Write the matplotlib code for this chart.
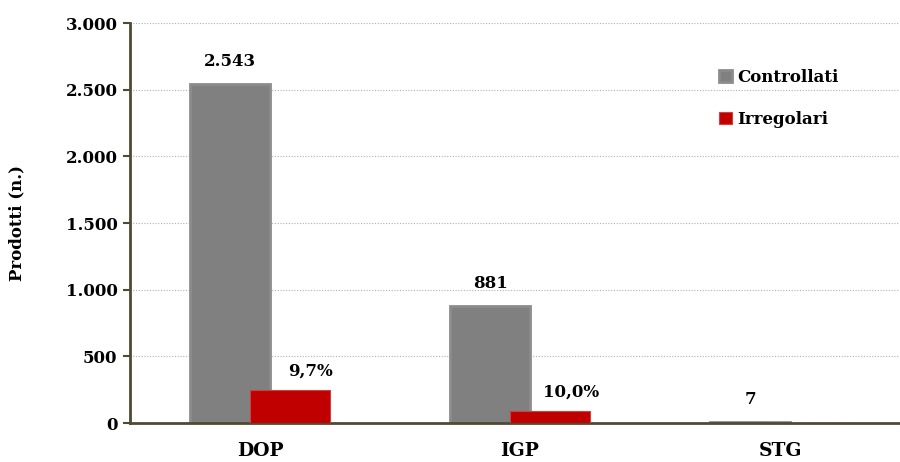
import numpy as np
import matplotlib.pyplot as plt
from matplotlib.ticker import FuncFormatter

categorie = ["DOP", "IGP", "STG"]
controllati = [2543, 881, 7]
irregolari = [247, 88, 0]
etichette_ctrl = ["2.543", "881", "7"]
etichette_irr = ["9,7%", "10,0%", ""]

plt.rcParams["font.family"] = ["DejaVu Serif"]
plt.rcParams["font.weight"] = "bold"

fig = plt.figure(figsize=(9, 4.62), dpi=100)
ax = fig.add_axes([130 / 900, 1 - 423 / 462, 770 / 900, 400 / 462])

x = np.arange(len(categorie))
w = 0.308
off = 0.115
grigio = "#808080"
rosso = "#c00000"

ax.bar(x - off, controllati, w, color=grigio, edgecolor="#8c8c8c", linewidth=2,
       label="Controllati", zorder=2)
ax.bar(x + off, irregolari, w, color=rosso, edgecolor="#d04040", linewidth=0.8,
       label="Irregolari", zorder=3)

for xi, v, t in zip(x, controllati, etichette_ctrl):
    ax.annotate(t, (xi - off, v), xytext=(0, 16), textcoords="offset points",
                ha="center", va="center", fontsize=12, fontweight="bold")
for xi, v, t in zip(x, irregolari, etichette_irr):
    if t:
        ax.annotate(t, (xi + off + 0.08, v), xytext=(0, 13.5), textcoords="offset points",
                    ha="center", va="center", fontsize=12, fontweight="bold")

ax.set_ylim(0, 3000)
ax.set_xlim(-0.5, -0.5 + 770 / 260)
ax.set_yticks(np.arange(0, 3001, 500))
ax.yaxis.set_major_formatter(FuncFormatter(lambda v, p: f"{int(v):,}".replace(",", ".")))
ax.set_xticks(x)
ax.set_xticklabels(categorie)
ax.tick_params(axis="y", length=5, width=1.5, color="#4f4a33", labelsize=12, pad=4)
ax.tick_params(axis="x", length=0, labelsize=13.5, pad=14)
for lab in ax.get_xticklabels() + ax.get_yticklabels():
    lab.set_fontweight("bold")

ax.grid(axis="y", linestyle=(0, (1, 1.5)), color="#b0b0b0", linewidth=0.8, zorder=0)
ax.set_axisbelow(True)
for s in ["top", "right"]:
    ax.spines[s].set_visible(False)
for s in ["left", "bottom"]:
    ax.spines[s].set_color("#4f4a33")
    ax.spines[s].set_linewidth(2)

ax.set_ylabel("Prodotti (n.)", fontsize=12, fontweight="bold")
ax.yaxis.set_label_coords(-(130 - 25) / 770, 0.5)

leg = ax.legend(loc="upper left", bbox_to_anchor=((719 - 130 - 15) / 770, (423 - 54) / 400),
                frameon=False, fontsize=12, handlelength=0.75, handleheight=0.75,
                handletextpad=0.35, labelspacing=1.5)
for t in leg.get_texts():
    t.set_fontweight("bold")

plt.savefig("out.png", dpi=100)
